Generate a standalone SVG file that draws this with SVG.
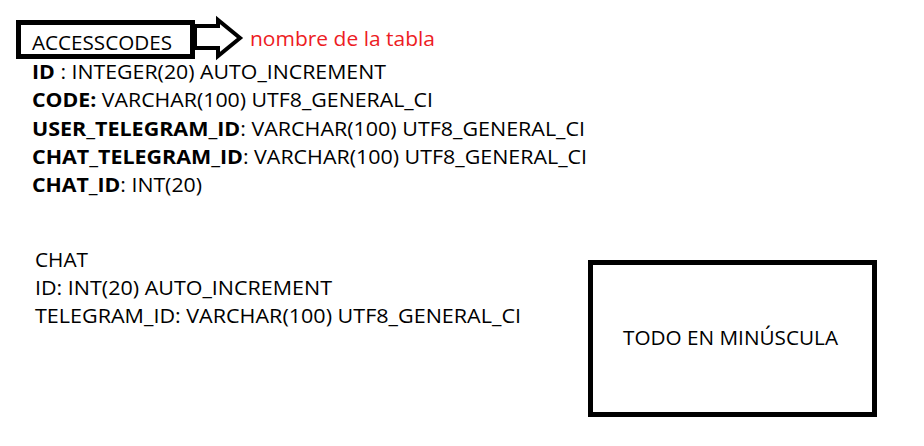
<svg xmlns="http://www.w3.org/2000/svg" width="924" height="446" viewBox="0 0 924 446">
<style>
.t{font-family:"Open Sans","Noto Sans","Liberation Sans",sans-serif;font-size:20px;fill:#000}
.b{font-weight:bold}
.box{fill:#fff;stroke:#000;stroke-width:5}
</style>
<rect width="924" height="446" fill="#fff"/>
<g id="accesscodes">
<rect class="box" x="18.5" y="22.5" width="174" height="34"/>
<text class="t" x="32" y="50" textLength="140" lengthAdjust="spacingAndGlyphs">ACCESSCODES</text>
</g>
<g id="connectors">
<polygon points="195,26 218,26 218,20 240,38 218,56 218,48 195,48" fill="#fff" stroke="#000" stroke-width="4" stroke-linejoin="miter"/>
</g>
<g id="label">
<text class="t" x="250" y="46" style="fill:#ed1c24" textLength="185" lengthAdjust="spacingAndGlyphs">nombre de la tabla</text>
</g>
<g id="fields">
<text class="t" x="32" y="79" textLength="354" lengthAdjust="spacingAndGlyphs"><tspan class="b">ID</tspan> : INTEGER(20) AUTO_INCREMENT</text>
<text class="t" x="32" y="107" textLength="401" lengthAdjust="spacingAndGlyphs"><tspan class="b">CODE:</tspan> VARCHAR(100) UTF8_GENERAL_CI</text>
<text class="t" x="32" y="135.5" textLength="553" lengthAdjust="spacingAndGlyphs"><tspan class="b">USER_TELEGRAM_ID</tspan>: VARCHAR(100) UTF8_GENERAL_CI</text>
<text class="t" x="32" y="164" textLength="555" lengthAdjust="spacingAndGlyphs"><tspan class="b">CHAT_TELEGRAM_ID</tspan>: VARCHAR(100) UTF8_GENERAL_CI</text>
<text class="t" x="32" y="192" textLength="170" lengthAdjust="spacingAndGlyphs"><tspan class="b">CHAT_ID</tspan>: INT(20)</text>
</g>
<g id="chat">
<text class="t" x="35" y="267" textLength="53" lengthAdjust="spacingAndGlyphs">CHAT</text>
<text class="t" x="35" y="295" textLength="297" lengthAdjust="spacingAndGlyphs">ID: INT(20) AUTO_INCREMENT</text>
<text class="t" x="35" y="323" textLength="486" lengthAdjust="spacingAndGlyphs">TELEGRAM_ID: VARCHAR(100) UTF8_GENERAL_CI</text>
</g>
<g id="note">
<rect class="box" x="590.5" y="262.5" width="284" height="152"/>
<text class="t" x="623" y="345" textLength="215" lengthAdjust="spacingAndGlyphs">TODO EN MINÚSCULA</text>
</g>
</svg>
